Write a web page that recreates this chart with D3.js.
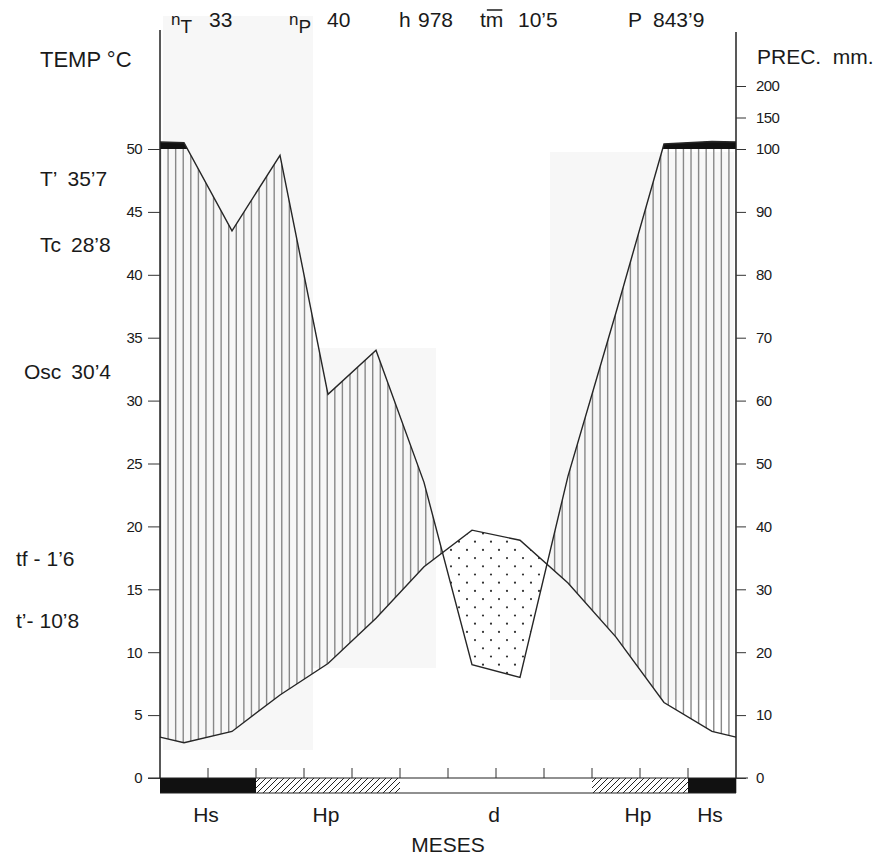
<!DOCTYPE html>
<html><head><meta charset="utf-8">
<script src="https://cdn.jsdelivr.net/npm/d3@7"></script>
<style>
body{margin:0;background:#fff}
svg{display:block}
text{font-family:"Liberation Sans",Arial,Helvetica,sans-serif;fill:#1a1a1a}
</style>
</head><body>
<svg id="c" width="880" height="863"></svg>
<script>
// ---------------- data ----------------
const months = ["E","F","M","A","M","J","J","A","S","O","N","D"];
const temperature = [2.8, 3.7, 6.6, 9.1, 12.7, 16.8, 19.7, 18.9, 15.5, 11.2, 6.0, 3.7];
const precipitation = [110, 87, 99, 61, 68, 47, 18, 16, 48, 74, 108, 112];
const frost = ["Hs","Hs","Hp","Hp","Hp","d","d","d","d","Hp","Hp","Hs"];
const tempTicks = [0,5,10,15,20,25,30,35,40,45,50];
const precTicks = [0,10,20,30,40,50,60,70,80,90,100,150,200];
const leftNames = ["T’","Tc","Osc","tf -","t’-"];
const leftValues = ["35’7","28’8","30’4","1’6","10’8"];
const topNames = ["n","n","h","t","P"];
const topSubs = ["T","P","","m",""];
const topValues = ["33","40","978","10’5","843’9"];

// ---------------- scales ----------------
const svg = d3.select("#c");
const x = d3.scaleLinear().domain([0,12]).range([160,736]);
const yT = d3.scaleLinear().domain([0,50]).range([778,149]);
const yP = d3.scaleLinear().domain([0,100,200]).range([778,149,86]);
const X0 = x(0), X1 = x(12), Y0 = yT(0), Y100 = yP(100);

function pts(vals, sc){
  const p = vals.map((v,i)=>[x(i+0.5), sc(v)]);
  const e = (sc(vals[0]) + sc(vals[vals.length-1]))/2;
  return [[X0,e], ...p, [X1,e]];
}
const tPts = pts(temperature, yT);
const pPts = pts(precipitation, yP);
function at(p, px){
  for(let i=0;i<p.length-1;i++){
    if(px>=p[i][0] && px<=p[i+1][0]){
      const f=(px-p[i][0])/(p[i+1][0]-p[i][0]);
      return p[i][1]+f*(p[i+1][1]-p[i][1]);
    }
  }
  return p[p.length-1][1];
}
const samp = d3.range(X0, X1+0.001, 0.25).map(px=>({x:px, t:at(tPts,px), p:at(pPts,px)}));

// ---------------- faint scan panels ----------------
const panels = svg.append("g").attr("fill","#f7f7f7");
panels.append("rect").attr("x",163).attr("y",16).attr("width",150).attr("height",734);
panels.append("rect").attr("x",313).attr("y",348).attr("width",123).attr("height",320);
panels.append("rect").attr("x",550).attr("y",152).attr("width",184).attr("height",548);

// ---------------- defs ----------------
const defs = svg.append("defs");
const hatchArea = d3.area().x(d=>d.x).y0(d=>d.t).y1(d=>Math.min(d.t, Math.max(d.p, Y100)));
const dotArea = d3.area().x(d=>d.x).y0(d=>d.p).y1(d=>Math.min(d.p, d.t));
const blackArea = d3.area().x(d=>d.x).y0(()=>Y100).y1(d=>Math.min(Y100, d.p));
defs.append("clipPath").attr("id","hc").append("path").attr("d", hatchArea(samp));
defs.append("clipPath").attr("id","dc").append("path").attr("d", dotArea(samp));
const pat = defs.append("pattern").attr("id","diag").attr("patternUnits","userSpaceOnUse")
  .attr("width",6).attr("height",6);
pat.append("rect").attr("width",6).attr("height",6).attr("fill","#fff");
pat.append("path").attr("d","M-1,7 L7,-1 M-1,1 L1,-1 M5,7 L7,5").attr("stroke","#222").attr("stroke-width",1);

// ---------------- humid hatching ----------------
const nH = 76, step = (X1-X0)/nH;
svg.append("g").attr("clip-path","url(#hc)").selectAll("line")
  .data(d3.range(0,nH+1)).join("line")
  .attr("x1",i=>X0+i*step+0.5).attr("x2",i=>X0+i*step+0.5)
  .attr("y1",Y100-2).attr("y2",Y0)
  .attr("stroke","#888").attr("stroke-width",1.4);

// ---------------- arid dots ----------------
const dots=[];
for(let r=0;r<60;r++){
  const yy = 541.7 - 8.2*10 + r*8.2;
  const off = (r%2===0)?0:8;
  for(let c=0;c<40;c++){ dots.push([315+off+c*16, yy]); }
}
svg.append("g").attr("clip-path","url(#dc)").selectAll("circle")
  .data(dots).join("circle").attr("cx",d=>d[0]).attr("cy",d=>d[1]).attr("r",1.1).attr("fill","#333");

// ---------------- superhumid black ----------------
svg.append("path").attr("d", blackArea(samp)).attr("fill","#111");

// ---------------- curves ----------------
const line = d3.line();
svg.append("path").attr("d", line(tPts)).attr("fill","none").attr("stroke","#262626").attr("stroke-width",1.4);
svg.append("path").attr("d", line(pPts)).attr("fill","none").attr("stroke","#262626").attr("stroke-width",1.4);

// ---------------- frost bar ----------------
const barH = 15;
svg.append("g").selectAll("rect").data(frost).join("rect")
  .attr("x",(d,i)=>x(i)).attr("y",Y0).attr("width",x(1)-x(0)+0.3).attr("height",barH)
  .attr("fill",d=>d==="Hs"?"#111":d==="Hp"?"url(#diag)":"#fff");
svg.append("line").attr("x1",X0).attr("x2",X1).attr("y1",Y0+barH).attr("y2",Y0+barH).attr("stroke","#222").attr("stroke-width",1.2);
svg.append("line").attr("x1",148).attr("x2",748).attr("y1",Y0).attr("y2",Y0).attr("stroke","#222").attr("stroke-width",1.2);
svg.append("g").selectAll("line").data(d3.range(1,12)).join("line")
  .attr("x1",i=>x(i)).attr("x2",i=>x(i)).attr("y1",Y0-10).attr("y2",Y0)
  .attr("stroke","#333").attr("stroke-width",1);
const runs=[]; frost.forEach((f,i)=>{ if(runs.length && runs[runs.length-1].k===f) runs[runs.length-1].e=i+1; else runs.push({k:f,s:i,e:i+1}); });
svg.append("g").selectAll("text").data(runs).join("text")
  .attr("x",d=>x((d.s+d.e)/2)-2).attr("y",822).attr("text-anchor","middle")
  .attr("font-size",21).text(d=>d.k);
svg.append("text").attr("x",(X0+X1)/2).attr("y",852).attr("text-anchor","middle").attr("font-size",21).text("MESES");

// ---------------- axes ----------------
svg.append("line").attr("x1",X0).attr("x2",X0).attr("y1",30).attr("y2",Y0).attr("stroke","#222").attr("stroke-width",1.5);
svg.append("line").attr("x1",X1).attr("x2",X1).attr("y1",32).attr("y2",Y0).attr("stroke","#222").attr("stroke-width",1.5);
const la = svg.append("g").attr("transform",`translate(${X0},0)`)
  .call(d3.axisLeft(yT).tickValues(tempTicks).tickSize(12).tickPadding(6));
la.select(".domain").remove();
const ra = svg.append("g").attr("transform",`translate(${X1},0)`)
  .call(d3.axisRight(yP).tickValues(precTicks).tickSize(10).tickPadding(10));
ra.select(".domain").remove();
[la,ra].forEach(g=>{
  g.selectAll(".tick line").attr("stroke","#333");
  g.selectAll(".tick text").attr("font-size",15).attr("font-family","Liberation Sans Narrow, Liberation Sans, Arial").attr("letter-spacing",-0.6).attr("fill","#1a1a1a");
});

// ---------------- titles & stats ----------------
svg.append("text").attr("x",40).attr("y",67).attr("font-size",22).text("TEMP °C");
svg.append("text").attr("x",757).attr("y",64).attr("font-size",21).attr("xml:space","preserve").text("PREC.  mm.");

const leftX = [40,40,24,16,16];
const leftY = [186,252,379,566,628];
const lg = svg.append("g").selectAll("text").data(leftNames).join("text")
  .attr("x",(d,i)=>leftX[i]).attr("y",(d,i)=>leftY[i]).attr("font-size",21);
lg.append("tspan").text(d=>d);
lg.append("tspan").attr("dx",(d,i)=>i<3?10:6).text((d,i)=>leftValues[i]);

const topX = [171,289,399,480,628];
const topValX = [209,327,418,518,653];
const tg = svg.append("g");
topNames.forEach((n,i)=>{
  const t = tg.append("text").attr("x",topX[i]).attr("y",27).attr("font-size",21);
  if(n==="n"){
    t.append("tspan").attr("font-size",17).attr("dy",-2).text(n);
    t.append("tspan").attr("font-size",19).attr("dy",8).text(topSubs[i]);
  } else if(topSubs[i]){
    t.append("tspan").text(n);
    const m = t.append("tspan").text(topSubs[i]);
    const node = t.node();
    const sx = node.getStartPositionOfChar(1).x, w = node.getSubStringLength(1,1);
    tg.append("line").attr("x1",sx+1).attr("x2",sx+w-1).attr("y1",10).attr("y2",10)
      .attr("stroke","#1a1a1a").attr("stroke-width",1.5);
  } else {
    t.text(n);
  }
  tg.append("text").attr("x",topValX[i]).attr("y",27).attr("font-size",21).text(topValues[i]);
});
</script>
</body></html>
